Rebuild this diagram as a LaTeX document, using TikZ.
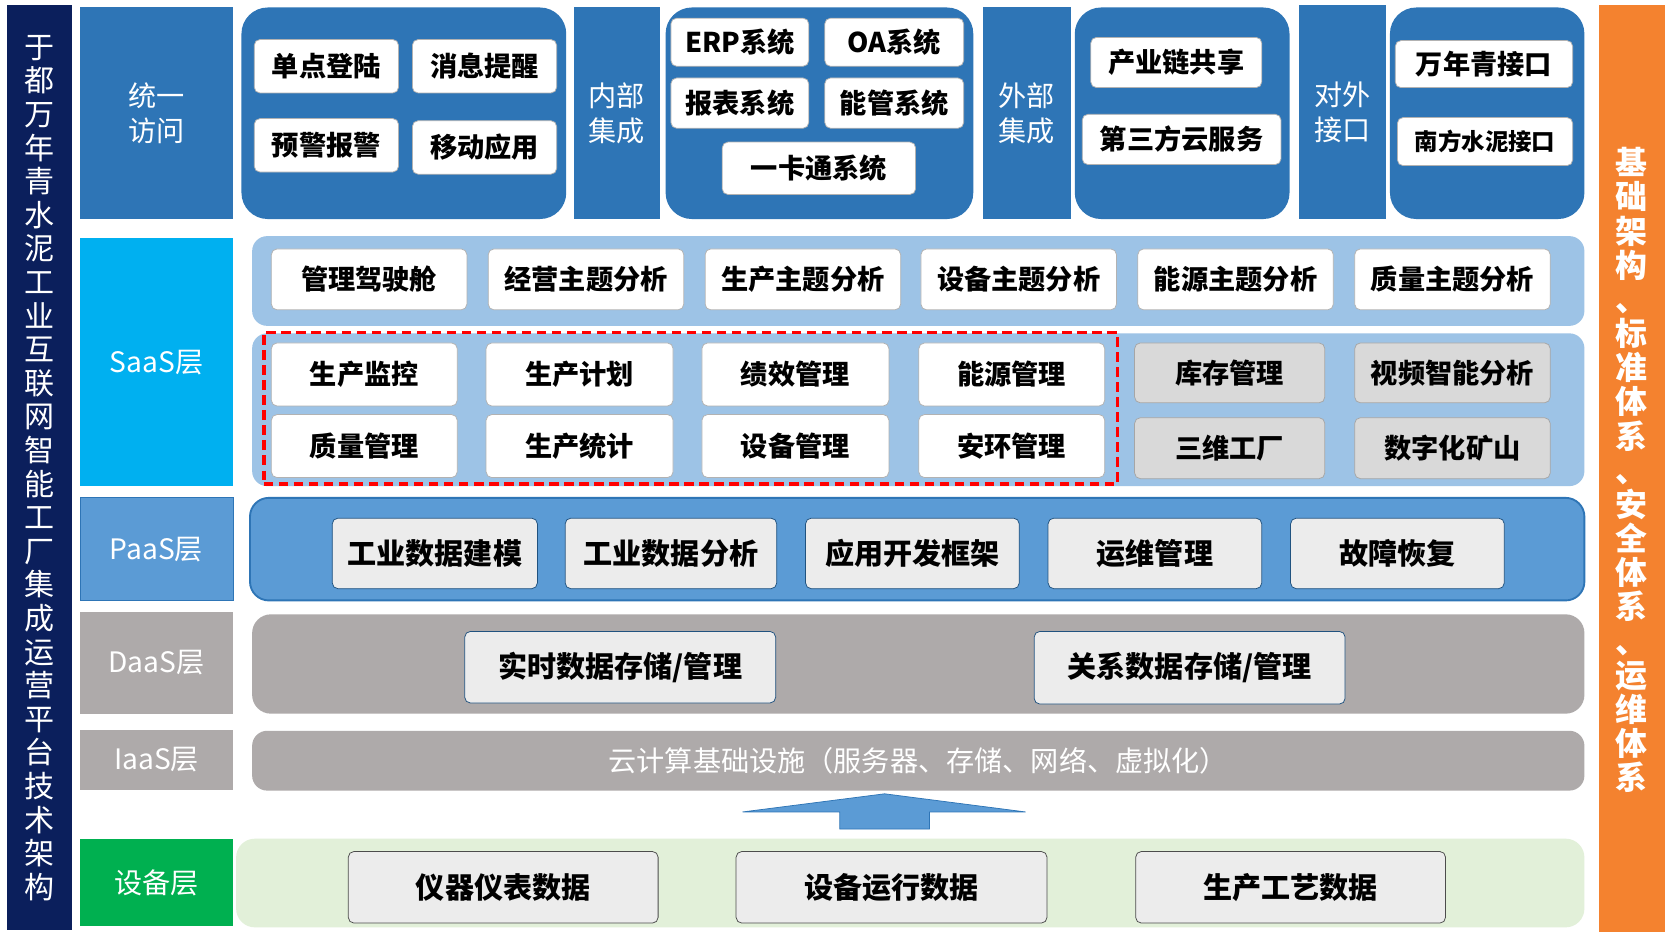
\documentclass[tikz,border=0pt]{standalone}
\usepackage{fontspec}
\setmainfont{Noto Sans CJK SC}
\usetikzlibrary{shapes.geometric}
\definecolor{navy}{HTML}{0B1F5C}
\definecolor{lblue}{HTML}{2E75B6}
\definecolor{mblue}{HTML}{5B9BD5}
\definecolor{pblue}{HTML}{9DC3E6}
\definecolor{cyanb}{HTML}{00B0F0}
\definecolor{gry}{HTML}{AEAAAA}
\definecolor{grn}{HTML}{00B050}
\definecolor{lgrn}{HTML}{E2F0D9}
\definecolor{org}{HTML}{F4822F}
\tikzset{
 wb/.style={draw=gray!60,fill=white,rounded corners=3pt,font=\fontsize{14.5}{16}\selectfont\bfseries},
 gb/.style={draw=gray!70,fill=gray!30,rounded corners=3pt,font=\fontsize{14.5}{16}\selectfont\bfseries},
 eb/.style={draw=lblue!70!black,fill=gray!15,rounded corners=3pt,font=\fontsize{15.5}{17}\selectfont\bfseries},
 db/.style={draw=black!70,fill=gray!15,rounded corners=3pt,font=\fontsize{15.5}{17}\selectfont\bfseries},
 lab/.style={text=white,font=\fontsize{15}{19}\selectfont,align=center},
}
\newcommand\bx[7]{\node[#5,inner sep=0pt,minimum width={(#3-#1)*0.02cm},minimum height={(#4-#2)*0.02cm}] (#7) at ({(#1+#3)/2},{-(#2+#4)/2}) {#6};}
\begin{document}
\begin{tikzpicture}[x=0.02cm,y=0.02cm]
\useasboundingbox (0,0) rectangle (1565,-880);
\fill[white] (0,0) rectangle (1565,-880);
% side bars
\bx{7}{5}{67}{870}{fill=navy}{}{lb}
\node[text=white,align=center,font=\fontsize{16}{17.9}\selectfont] (lt) at (37,-438) {于\\都\\万\\年\\青\\水\\泥\\工\\业\\互\\联\\网\\智\\能\\工\\厂\\集\\成\\运\\营\\平\\台\\技\\术\\架\\构};
\bx{1497}{5}{1558}{872}{fill=org}{}{rb}
\node[text=white,align=center,font=\fontsize{17}{18.2}\selectfont\bfseries] (rt) at (1527,-440) {基\\础\\架\\构\\、\\标\\准\\体\\系\\、\\安\\全\\体\\系\\、\\运\\维\\体\\系};
% top row
\bx{75}{7}{218}{205}{fill=lblue,lab}{统一\\访问}{l1}
\bx{226}{7}{530}{205}{fill=lblue,rounded corners=14pt}{}{g1}
\bx{238}{37}{373}{87}{wb}{单点登陆}{a1}
\bx{386}{37}{521}{87}{wb}{消息提醒}{a2}
\bx{238}{111}{373}{161}{wb}{预警报警}{a3}
\bx{386}{113}{521}{163}{wb}{移动应用}{a4}
\bx{537}{7}{618}{205}{fill=lblue,lab}{内部\\集成}{l2}
\bx{623}{7}{911}{205}{fill=lblue,rounded corners=14pt}{}{g2}
\bx{628}{17}{757}{62}{wb}{ERP系统}{b1}
\bx{772}{17}{902}{62}{wb}{OA系统}{b2}
\bx{628}{73}{757}{120}{wb}{报表系统}{b3}
\bx{772}{73}{902}{120}{wb}{能管系统}{b4}
\bx{676}{133}{857}{182}{wb}{一卡通系统}{b5}
\bx{920}{7}{1002}{205}{fill=lblue,lab}{外部\\集成}{l3}
\bx{1006}{7}{1207}{205}{fill=lblue,rounded corners=14pt}{}{g3}
\bx{1021}{35}{1181}{82}{wb}{产业链共享}{c1}
\bx{1013}{107}{1199}{154}{wb}{第三方云服务}{c2}
\bx{1216}{5}{1297}{205}{fill=lblue,lab}{对外\\接口}{l4}
\bx{1301}{7}{1483}{205}{fill=lblue,rounded corners=14pt}{}{g4}
\bx{1306}{38}{1472}{82}{wb}{万年青接口}{d1}
\bx{1308}{110}{1472}{155}{wb,font=\fontsize{12.5}{14}\selectfont\bfseries}{南方水泥接口}{d2}
% SaaS
\bx{75}{223}{218}{455}{fill=cyanb,lab}{SaaS层}{ls}
\bx{236}{221}{1483}{305}{fill=pblue,rounded corners=8pt}{}{s1}
\bx{254}{233}{437}{290}{wb}{管理驾驶舱}{e1}
\bx{457}{233}{640}{290}{wb}{经营主题分析}{e2}
\bx{660}{233}{843}{290}{wb}{生产主题分析}{e3}
\bx{862}{233}{1045}{290}{wb}{设备主题分析}{e4}
\bx{1065}{233}{1248}{290}{wb}{能源主题分析}{e5}
\bx{1268}{233}{1451}{290}{wb}{质量主题分析}{e6}
\bx{236}{312}{1483}{455}{fill=pblue,rounded corners=8pt}{}{s2}
\bx{254}{321}{428}{380}{wb}{生产监控}{f1}
\bx{455}{321}{630}{380}{wb}{生产计划}{f2}
\bx{657}{321}{832}{380}{wb}{绩效管理}{f3}
\bx{860}{321}{1034}{380}{wb}{能源管理}{f4}
\bx{254}{388}{428}{447}{wb}{质量管理}{f5}
\bx{455}{388}{630}{447}{wb}{生产统计}{f6}
\bx{657}{388}{832}{447}{wb}{设备管理}{f7}
\bx{860}{388}{1034}{447}{wb}{安环管理}{f8}
\bx{1062}{321}{1240}{377}{gb}{库存管理}{h1}
\bx{1268}{321}{1451}{377}{gb}{视频智能分析}{h2}
\bx{1062}{391}{1240}{448}{gb}{三维工厂}{h3}
\bx{1268}{391}{1451}{448}{gb}{数字化矿山}{h4}
\bx{247}{311}{1046}{453}{draw=red,line width=1.8pt,dash pattern=on 5pt off 3pt}{}{rd}
% PaaS
\bx{75}{466}{218}{562}{fill=mblue,draw=lblue,lab}{PaaS层}{lp}
\bx{234}{466}{1483}{562}{fill=mblue,draw=lblue,line width=1pt,rounded corners=10pt}{}{pb}
\bx{311}{485}{503}{551}{eb}{工业数据建模}{p1}
\bx{529}{485}{727}{551}{eb}{工业数据分析}{p2}
\bx{754}{485}{954}{551}{eb}{应用开发框架}{p3}
\bx{981}{485}{1181}{551}{eb}{运维管理}{p4}
\bx{1208}{485}{1408}{551}{eb}{故障恢复}{p5}
% DaaS
\bx{75}{573}{218}{668}{fill=gry,lab}{DaaS层}{ld}
\bx{236}{575}{1483}{668}{fill=gry,rounded corners=10pt}{}{dbg}
\bx{435}{591}{726}{658}{eb}{实时数据存储/管理}{q1}
\bx{968}{591}{1259}{659}{eb}{关系数据存储/管理}{q2}
% IaaS
\bx{75}{683}{218}{739}{fill=gry,lab}{IaaS层}{li}
\bx{236}{684}{1483}{740}{fill=gry,rounded corners=8pt,text=white,font=\fontsize{15}{17}\selectfont}{云计算基础设施（服务器、存储、网络、虚拟化）}{ib}
% arrow
\fill[mblue,draw=lblue] (786,-776) -- (870,-776) -- (870,-760) -- (960,-760) -- (828,-743) -- (695,-760) -- (786,-760) -- cycle;
% device
\bx{75}{785}{218}{867}{fill=grn,lab}{设备层}{lv}
\bx{221}{785}{1483}{868}{fill=lgrn,rounded corners=10pt}{}{vb}
\bx{326}{797}{616}{864}{db}{仪器仪表数据}{v1}
\bx{689}{797}{980}{864}{db}{设备运行数据}{v2}
\bx{1063}{797}{1353}{864}{db}{生产工艺数据}{v3}
\end{tikzpicture}
\end{document}
